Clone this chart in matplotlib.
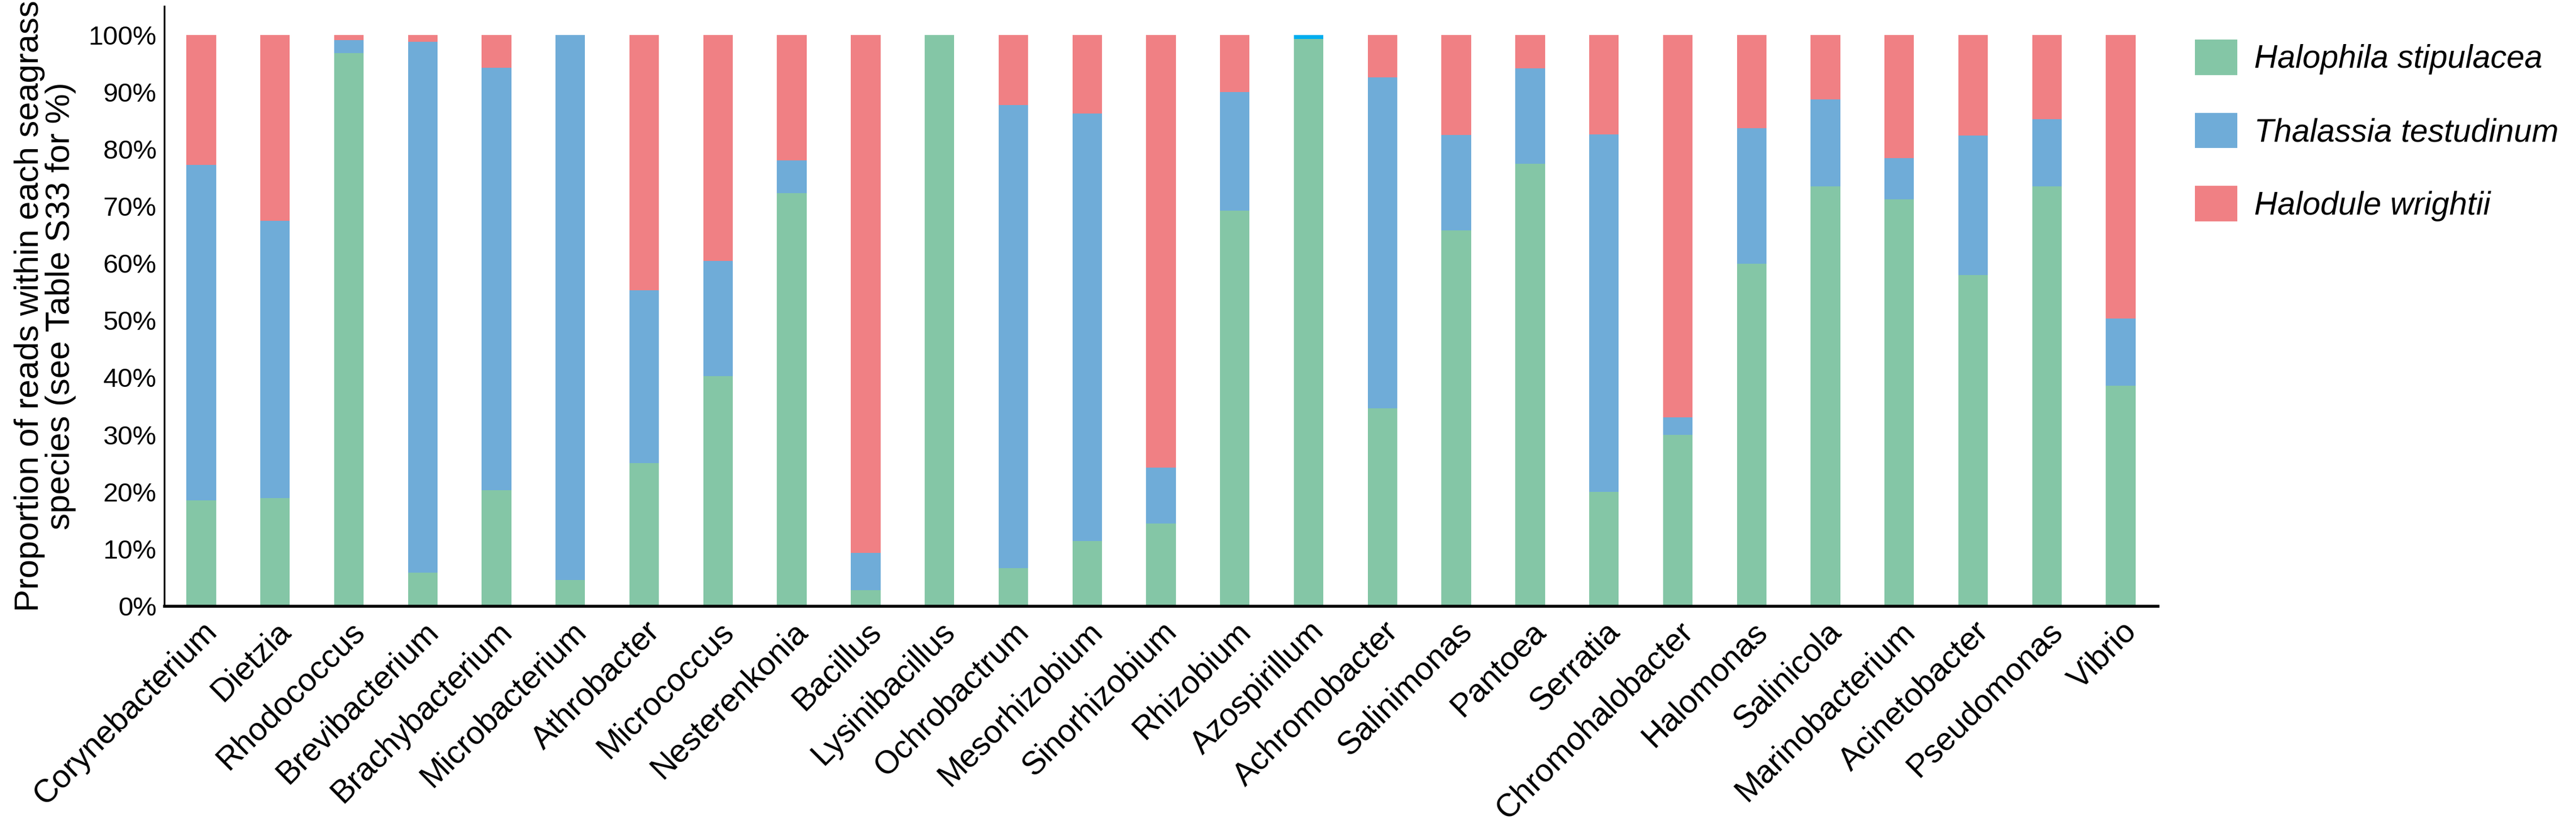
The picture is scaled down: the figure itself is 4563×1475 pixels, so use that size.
import matplotlib
matplotlib.use("Agg")
import matplotlib.pyplot as plt
import numpy as np

genera = ["Corynebacterium", "Dietzia", "Rhodococcus", "Brevibacterium", "Brachybacterium",
          "Microbacterium", "Athrobacter", "Micrococcus", "Nesterenkonia", "Bacillus",
          "Lysinibacillus", "Ochrobactrum", "Mesorhizobium", "Sinorhizobium", "Rhizobium",
          "Azospirillum", "Achromobacter", "Salinimonas", "Pantoea", "Serratia",
          "Chromohalobacter", "Halomonas", "Salinicola", "Marinobacterium", "Acinetobacter",
          "Pseudomonas", "Vibrio"]

halophila = [0.185, 0.189, 0.968, 0.058, 0.203, 0.045, 0.250, 0.402, 0.723, 0.028,
             1.000, 0.066, 0.114, 0.144, 0.692, 0.993, 0.346, 0.657, 0.774, 0.200,
             0.300, 0.599, 0.735, 0.712, 0.579, 0.735, 0.386]
thalassia = [0.587, 0.485, 0.023, 0.930, 0.739, 0.955, 0.303, 0.202, 0.057, 0.065,
             0.000, 0.811, 0.748, 0.098, 0.208, 0.007, 0.579, 0.168, 0.167, 0.626,
             0.030, 0.237, 0.152, 0.072, 0.245, 0.117, 0.117]
halodule = [0.228, 0.326, 0.009, 0.012, 0.058, 0.000, 0.447, 0.396, 0.220, 0.907,
            0.000, 0.123, 0.138, 0.758, 0.100, 0.000, 0.075, 0.175, 0.059, 0.174,
            0.670, 0.164, 0.113, 0.216, 0.176, 0.148, 0.497]

series_names = ["Halophila stipulacea", "Thalassia testudinum", "Halodule wrightii"]
ytick_values = [0.0, 0.1, 0.2, 0.3, 0.4, 0.5, 0.6, 0.7, 0.8, 0.9, 1.0]
ytick_labels = ["0%", "10%", "20%", "30%", "40%", "50%", "60%", "70%", "80%", "90%", "100%"]
ylabel_text = "Proportion of reads within each seagrass\nspecies (see Table S33 for %)"

GREEN = "#84C6A6"
BLUE = "#6FACD8"
RED = "#F08084"
BRIGHT_BLUE = "#00AEEF"

plt.rcParams["font.family"] = ["Liberation Sans", "DejaVu Sans"]

W, H = 4563, 1475
fig = plt.figure(figsize=(W / 100, H / 100), dpi=100)
ax_left, ax_right, ax_top, ax_bottom = 291, 3822, 11, 1073
ax = fig.add_axes([ax_left / W, 1 - ax_bottom / H, (ax_right - ax_left) / W, (ax_bottom - ax_top) / H])

x = np.arange(len(genera))
g = np.array(halophila)
t = np.array(thalassia)
r = np.array(halodule)
bw = 0.4
blue_colors = [BRIGHT_BLUE if name == "Azospirillum" else BLUE for name in genera]

b1 = ax.bar(x, g, width=bw, color=GREEN, linewidth=0, label=series_names[0])
b2 = ax.bar(x, t, width=bw, bottom=g, color=blue_colors, linewidth=0, label=series_names[1])
b3 = ax.bar(x, r, width=bw, bottom=g + t, color=RED, linewidth=0, label=series_names[2])

ax.set_xlim(-0.5, len(genera) - 0.5)
ax.set_ylim(0, 1.05)
ax.set_yticks(ytick_values)
ax.set_yticklabels(ytick_labels, fontsize=34)
ax.set_xticks(x)
ax.set_xticklabels(genera, fontsize=41, rotation=45, ha="right",
                   va="top", rotation_mode="anchor")
ax.tick_params(axis="y", length=0, pad=10)
ax.tick_params(axis="x", length=0, pad=13)

for s in ["top", "right"]:
    ax.spines[s].set_visible(False)
ax.spines["left"].set_linewidth(2.2)
ax.spines["bottom"].set_linewidth(3.8)

ax.set_ylabel(ylabel_text, fontsize=43, linespacing=1.0)
ax.yaxis.set_label_coords((135 - ax_left) / (ax_right - ax_left), 0.5)

fs_leg = 41
em = fs_leg * 100 / 72
leg = fig.legend(handles=[b1, b2, b3], labels=series_names, loc="upper left",
                 bbox_to_anchor=(3888 / W, 1 - 70 / H), frameon=False,
                 prop={"style": "italic", "size": fs_leg},
                 handlelength=75 / em, handleheight=75 / em,
                 handletextpad=30 / em, labelspacing=(142 - 75) / em,
                 borderpad=0, borderaxespad=0)
leg.legend_handles[1].set_facecolor(BLUE)

fig.savefig("out.png", dpi=100, facecolor="white")
